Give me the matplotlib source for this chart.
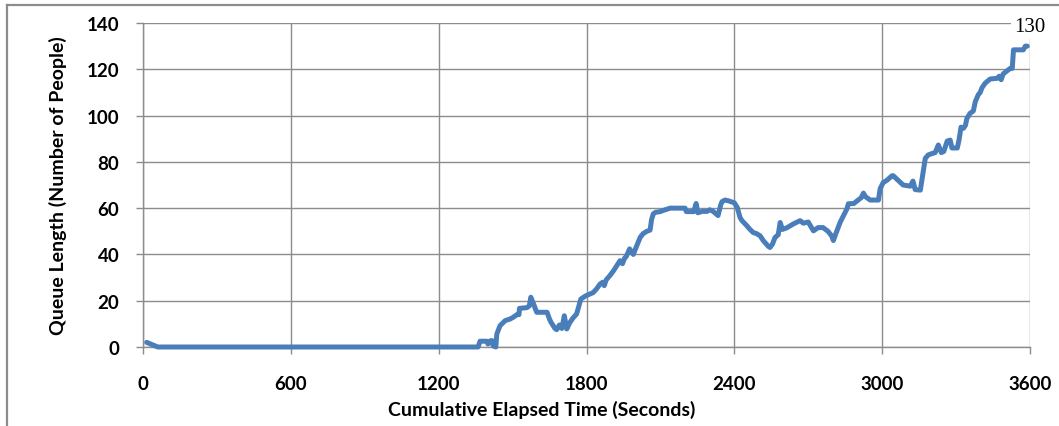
import matplotlib
matplotlib.use("Agg")
import matplotlib.pyplot as plt
from matplotlib.lines import Line2D

# data (seconds, number of people)
times = [15, 60, 1360, 1368, 1395, 1400, 1410, 1418, 1421, 1432, 1436, 1449, 1470, 1490,
         1502, 1518, 1526, 1528, 1558, 1568, 1574, 1585, 1598, 1640, 1650, 1656, 1672, 1679,
         1690, 1700, 1710, 1720, 1732, 1745, 1760, 1770, 1777, 1795, 1806, 1827, 1840, 1855,
         1866, 1872, 1880, 1896, 1910, 1916, 1936, 1946, 1955, 1961, 1975, 1990, 2003, 2018,
         2030, 2045, 2058, 2064, 2071, 2080, 2099, 2111, 2125, 2140, 2200, 2205, 2235, 2245,
         2252, 2270, 2290, 2300, 2314, 2334, 2345, 2350, 2362, 2375, 2400, 2412, 2423, 2431,
         2450, 2462, 2476, 2490, 2505, 2518, 2538, 2545, 2555, 2565, 2578, 2586, 2595, 2613,
         2640, 2667, 2680, 2700, 2721, 2740, 2760, 2780, 2795, 2802, 2812, 2830, 2857, 2863,
         2885, 2900, 2915, 2924, 2932, 2951, 2985, 2992, 3004, 3020, 3040, 3045, 3060, 3085,
         3114, 3125, 3134, 3155, 3162, 3175, 3187, 3200, 3215, 3228, 3240, 3250, 3264, 3276,
         3283, 3305, 3312, 3320, 3330, 3338, 3344, 3357, 3370, 3378, 3390, 3398, 3405, 3418,
         3438, 3467, 3475, 3483, 3491, 3520, 3528, 3533, 3573, 3581, 3589]
queue = [2, 0, 0, 2.5, 2.5, 1.3, 2.7, 2.7, 0.5, 0, 5.6, 9.2, 11.4, 12.1,
         12.8, 14, 14, 16.7, 17, 17.8, 21.5, 18.6, 15, 15, 12, 10.7, 8, 7.5,
         9.5, 8, 13.5, 7.8, 10.5, 12.5, 14.3, 18, 20.7, 22, 22.5, 23.5, 25, 27.2,
         28, 26.5, 29, 31, 33, 34, 37.3, 36, 38.5, 39, 42.4, 40, 43.5, 47.4,
         49, 50, 50.5, 55, 57.5, 58.2, 58.5, 59, 59.5, 60, 60, 58.5, 58.5, 62,
         58, 58.6, 58.6, 59.3, 58.6, 56.8, 61.5, 62.8, 63.5, 63.2, 62.3, 60.3, 56, 54.6,
         52.5, 51, 49.5, 49, 48, 45.9, 43.5, 43, 44.5, 47.3, 48.5, 53.8, 50.8, 51.5,
         53.2, 54.6, 53.5, 54, 50.2, 51.6, 51.6, 50, 48, 46, 49, 54, 59.7, 61.9,
         62, 63.3, 64.5, 66.5, 65, 63.5, 63.5, 68.5, 71, 72.1, 74, 74, 72.5, 70,
         69.5, 71.7, 68, 67.8, 72.5, 81.5, 83, 83.5, 84, 87.3, 84, 84.5, 89, 89.4,
         86, 86, 89.5, 95, 94.5, 95.8, 98.8, 101, 102, 106, 109, 110, 112, 114,
         115.8, 116.1, 117, 115.5, 118, 120.4, 120.4, 128.4, 128.4, 130, 130]

x_ticks = [0, 600, 1200, 1800, 2400, 3000, 3600]
y_ticks = [0, 20, 40, 60, 80, 100, 120, 140]

grid_col = "#8c8c8c"
line_col = "#4a7ebb"

fig = plt.figure(figsize=(10.59, 4.27), dpi=100)
ax = fig.add_axes([143 / 1059, 79 / 427, 887 / 1059, 324 / 427])

ax.plot(times, queue, color=line_col, lw=3.6, solid_joinstyle="round",
        solid_capstyle="round", clip_on=False, zorder=3)

ax.set_xlim(0, 3600)
ax.set_ylim(0, 140)
ax.set_xticks(x_ticks)
ax.set_yticks(y_ticks)
ax.grid(True, color=grid_col, lw=1.0)
ax.set_axisbelow(True)

for s in ["top", "right"]:
    ax.spines[s].set_visible(False)
for s in ["left", "bottom"]:
    ax.spines[s].set_color(grid_col)
    ax.spines[s].set_linewidth(1.0)

ax.tick_params(axis="both", direction="out", color=grid_col, width=1.0, length=5)
ax.tick_params(axis="y", pad=12)
ax.tick_params(axis="x", pad=15)
for lab in ax.get_xticklabels() + ax.get_yticklabels():
    lab.set_fontfamily("Lato")
    lab.set_fontweight("bold")
    lab.set_fontsize(13.5)

fig.text(542 / 1059, 1 - 410 / 427, "Cumulative Elapsed Time (Seconds)",
         ha="center", va="center", fontsize=14, fontweight="bold", family="Lato")
fig.text(58 / 1059, 1 - 186 / 427, "Queue Length (Number of People)", rotation=90,
         ha="center", va="center", fontsize=14, fontweight="bold", family="Lato")

# value label on last point
ax.annotate("%d" % queue[-1], (times[-1], queue[-1]), xytext=(2, 14),
            textcoords="offset points", ha="center", va="center",
            fontsize=15, family="Liberation Serif", annotation_clip=False,
            bbox=dict(boxstyle="square,pad=0.15", fc="white", ec="none"), zorder=5)

# chart border (left and top only are visible)
fig.add_artist(Line2D([7 / 1059, 7 / 1059], [0, 1 - 6 / 427], color=grid_col, lw=1.6))
fig.add_artist(Line2D([7 / 1059, 1], [1 - 6 / 427, 1 - 6 / 427], color=grid_col, lw=1.6))

fig.savefig("out.png", dpi=100)
